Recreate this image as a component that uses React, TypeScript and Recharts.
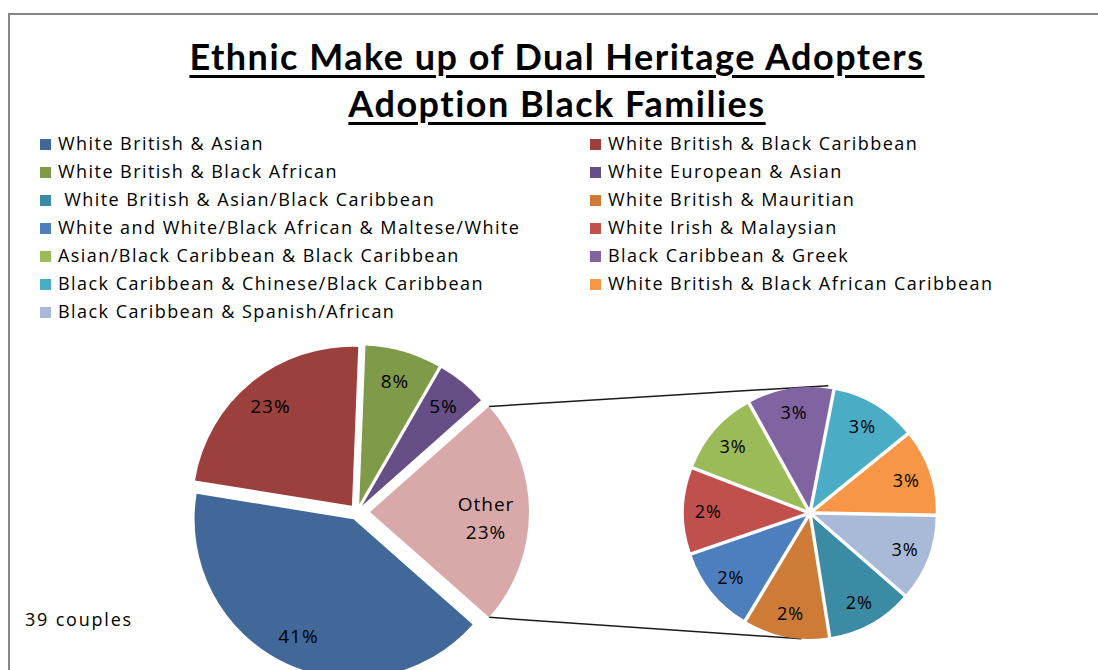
import React from 'react';
import { PieChart, Pie, Cell, Sector, Customized } from 'recharts';

const W = 1098;
const H = 670;
const RAD = Math.PI / 180;

// ---- data ----
const titleLines = ['Ethnic Make up of Dual Heritage Adopters', 'Adoption Black Families'];
const noteText = '39 couples';

const mainCategories = [
  'White British & Asian',
  'White British & Black Caribbean',
  'White British & Black African',
  'White European & Asian',
  'Other',
];
const mainCouples = [16, 9, 3, 2, 9];
const mainColors = ['#416899', '#9C403E', '#7F9A48', '#664F86', '#D9A9A9'];

const otherCategories = [
  ' White British & Asian/Black Caribbean',
  'White British & Mauritian',
  'White and White/Black African & Maltese/White',
  'White Irish & Malaysian',
  'Asian/Black Caribbean & Black Caribbean',
  'Black Caribbean & Greek',
  'Black Caribbean & Chinese/Black Caribbean',
  'White British & Black African Caribbean',
  'Black Caribbean & Spanish/African',
];
const otherCouples = [1, 1, 1, 1, 1, 1, 1, 1, 1];
const otherPctLabels = ['2%', '2%', '2%', '2%', '3%', '3%', '3%', '3%', '3%'];
const otherColors = ['#3A8BA3', '#CD7B37', '#4D7EBE', '#C0504D', '#9BBB59', '#8064A2', '#4BACC6', '#F79646', '#A9B9D8'];

// ---- layout ----
const MAIN = { cx: 357, cy: 512, r: 159, start: -41.5, explode: 8, otherExplode: 13 };
const SUB = { cx: 810, cy: 513, r: 121, start: -41, explode: 5 };
const FONT = '"Open Sans", "Noto Sans", sans-serif';

const mainData = mainCategories.map((name, i) => ({ name, value: mainCouples[i] }));
const subData = otherCategories.map((name, i) => ({ name, value: otherCouples[i], pct: otherPctLabels[i] }));

const legendItems = [
  ...mainCategories.slice(0, 4).map((n, i) => ({ name: n, color: mainColors[i] })),
  ...otherCategories.map((n, i) => ({ name: n, color: otherColors[i] })),
];

const shift = (cx: number, cy: number, angle: number, d: number) => ({
  x: cx + d * Math.cos(-angle * RAD),
  y: cy + d * Math.sin(-angle * RAD),
});

const mainExplode = (name: string) => (name === 'Other' ? MAIN.otherExplode : MAIN.explode);

const MainSector = (props: any) => {
  const name = props.name ?? props.payload?.name;
  const p = shift(props.cx, props.cy, props.midAngle, mainExplode(name));
  return <Sector {...props} cx={p.x} cy={p.y} stroke="none" />;
};

const SubSector = (props: any) => {
  const p = shift(props.cx, props.cy, props.midAngle, SUB.explode);
  return <Sector {...props} cx={p.x} cy={p.y} stroke="none" />;
};

const labelStyle: React.CSSProperties = { fontFamily: FONT, fontSize: 19, letterSpacing: 1, fill: '#000' };

const MainLabel = (props: any) => {
  const { cx, cy, midAngle, outerRadius, index, percent } = props;
  const name = mainData[index].name;
  const isOther = name === 'Other';
  const r = mainExplode(name) + outerRadius * (isOther ? 0.73 : 0.81);
  const p = shift(cx, cy, midAngle, r);
  const pct = `${Math.round(percent * 100)}%`;
  if (isOther) {
    return (
      <text x={p.x} y={p.y} textAnchor="middle" style={labelStyle}>
        <tspan x={p.x} dy={-1}>{name}</tspan>
        <tspan x={p.x} dy={28}>{pct}</tspan>
      </text>
    );
  }
  return (
    <text x={p.x} y={p.y} textAnchor="middle" dominantBaseline="central" style={labelStyle}>
      {pct}
    </text>
  );
};

const SubLabel = (props: any) => {
  const { cx, cy, midAngle, outerRadius, index } = props;
  const p = shift(cx, cy, midAngle, SUB.explode + outerRadius * 0.8);
  return (
    <text x={p.x} y={p.y} textAnchor="middle" dominantBaseline="central" style={{ ...labelStyle, fontSize: 18 }}>
      {subData[index].pct}
    </text>
  );
};

const Connectors = () => {
  const total = mainCouples.reduce((a, b) => a + b, 0);
  const oi = mainCategories.indexOf('Other');
  const before = mainCouples.slice(0, oi).reduce((a, b) => a + b, 0);
  const a0 = MAIN.start - (360 * before) / total;
  const a1 = a0 - (360 * mainCouples[oi]) / total;
  const mid = (a0 + a1) / 2;
  const v = shift(MAIN.cx, MAIN.cy, mid, MAIN.otherExplode);
  const pTop = shift(v.x, v.y, a0, MAIN.r);
  const pBot = shift(v.x, v.y, a1, MAIN.r);
  const rc = SUB.r + SUB.explode;
  const tangent = (P: { x: number; y: number }, sign: number) => {
    const dx = P.x - SUB.cx;
    const dy = P.y - SUB.cy;
    const d = Math.hypot(dx, dy);
    const base = Math.atan2(dy, dx);
    const alpha = Math.acos(rc / d);
    const a = base + sign * alpha;
    return { x: SUB.cx + rc * Math.cos(a), y: SUB.cy + rc * Math.sin(a) };
  };
  const tTop = tangent(pTop, 1);
  const tBot = tangent(pBot, -1);
  const ext = (P: any, T: any, e: number) => {
    const L = Math.hypot(T.x - P.x, T.y - P.y);
    return { x: T.x + ((T.x - P.x) / L) * e, y: T.y + ((T.y - P.y) / L) * e };
  };
  const eTop = ext(pTop, tTop, 26);
  return (
    <g>
      <line x1={pTop.x} y1={pTop.y} x2={eTop.x} y2={eTop.y} stroke="#1a1a1a" strokeWidth={1.5} />
      <line x1={pBot.x} y1={pBot.y} x2={tBot.x} y2={tBot.y} stroke="#1a1a1a" strokeWidth={1.5} />
    </g>
  );
};

const textBase: React.CSSProperties = {
  position: 'absolute',
  fontFamily: FONT,
  fontSize: 18,
  letterSpacing: 1.45,
  color: '#000',
  whiteSpace: 'pre',
};

export default function App() {
  return (
    <div style={{ position: 'fixed', left: 0, top: 0, width: W, height: H, overflow: 'hidden', background: '#fff' }}>
      <div
        style={{
          position: 'absolute',
          left: 8,
          top: 13,
          width: 1300,
          height: 900,
          borderTop: '2px solid #868686',
          borderLeft: '2px solid #868686',
        }}
      />
      <div style={{ position: 'absolute', left: 0, top: 0 }}>
        <PieChart width={W} height={H} margin={{ top: 0, right: 0, bottom: 0, left: 0 }}>
          <Customized component={Connectors} />
          <Pie
            data={mainData}
            dataKey="value"
            nameKey="name"
            cx={MAIN.cx}
            cy={MAIN.cy}
            outerRadius={MAIN.r}
            startAngle={MAIN.start}
            endAngle={MAIN.start - 360}
            stroke="none"
            shape={MainSector}
            activeShape={MainSector}
            label={MainLabel}
            labelLine={false}
            isAnimationActive={false}
          >
            {mainData.map((d, i) => (
              <Cell key={d.name} fill={mainColors[i]} />
            ))}
          </Pie>
          <Pie
            data={subData}
            dataKey="value"
            nameKey="name"
            cx={SUB.cx}
            cy={SUB.cy}
            outerRadius={SUB.r}
            startAngle={SUB.start}
            endAngle={SUB.start - 360}
            stroke="none"
            shape={SubSector}
            activeShape={SubSector}
            label={SubLabel}
            labelLine={false}
            isAnimationActive={false}
          >
            {subData.map((d, i) => (
              <Cell key={d.name} fill={otherColors[i]} />
            ))}
          </Pie>
        </PieChart>
      </div>
      <div
        style={{
          position: 'absolute',
          left: 8,
          top: 33,
          width: 1098,
          textAlign: 'center',
          fontFamily: 'Lato, "Open Sans", sans-serif',
          fontWeight: 700,
          fontSize: 36,
          letterSpacing: 1.5,
          fontVariantLigatures: 'none',
          lineHeight: '47px',
          color: '#000',
        }}
      >
        {titleLines.map((t) => (
          <div key={t}>
            <span style={{ textDecoration: 'underline', textDecorationThickness: 3, textUnderlineOffset: 5 }}>{t}</span>
          </div>
        ))}
      </div>
      {legendItems.map((it, i) => {
        const col = i % 2;
        const row = Math.floor(i / 2);
        const left = col === 0 ? 40 : 590;
        const top = 129 + row * 28;
        return (
          <div key={it.name} style={{ position: 'absolute', left, top, height: 28 }}>
            <div style={{ position: 'absolute', left: 0, top: 10, width: 11, height: 11, background: it.color }} />
            <div style={{ ...textBase, left: 18, top: 0, lineHeight: '28px' }}>{it.name}</div>
          </div>
        );
      })}
      <div style={{ ...textBase, left: 25, top: 605, lineHeight: '28px', letterSpacing: 1.8 }}>{noteText}</div>
    </div>
  );
}
